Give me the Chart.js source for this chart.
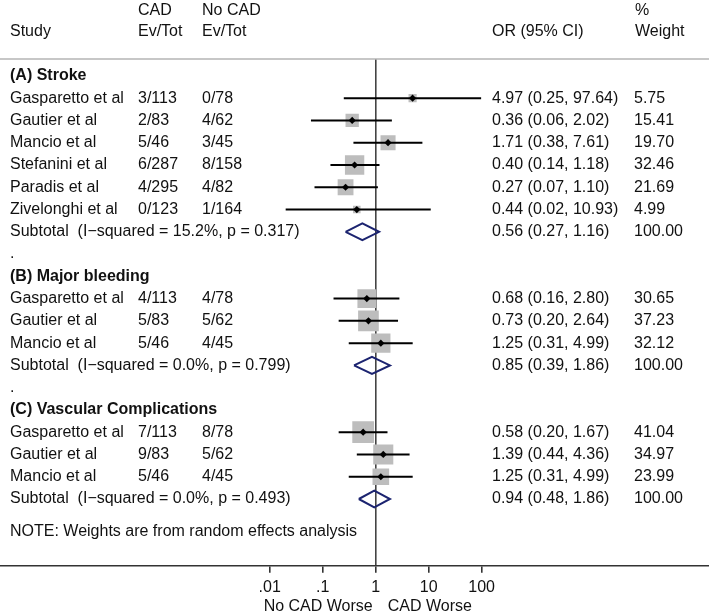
<!DOCTYPE html>
<html>
<head>
<meta charset="utf-8">
<script src="https://cdn.jsdelivr.net/npm/chart.js@4/dist/chart.umd.min.js"></script>
<style>
    html, body { margin: 0; padding: 0; background: #fff; }
    canvas { display: block; }
</style>
</head>
<body>
<canvas id="forestChart" width="709" height="616"></canvas>
<script>
// Study rows (row index from top of the table)
const studyRows = [1, 2, 3, 4, 5, 6, 10, 11, 12, 16, 17, 18];
const studyNames = ['Gasparetto et al', 'Gautier et al', 'Mancio et al', 'Stefanini et al', 'Paradis et al', 'Zivelonghi et al',
    'Gasparetto et al', 'Gautier et al', 'Mancio et al',
    'Gasparetto et al', 'Gautier et al', 'Mancio et al'];
const cadEvTot = ['3/113', '2/83', '5/46', '6/287', '4/295', '0/123', '4/113', '5/83', '5/46', '7/113', '9/83', '5/46'];
const noCadEvTot = ['0/78', '4/62', '3/45', '8/158', '4/82', '1/164', '4/78', '5/62', '4/45', '8/78', '5/62', '4/45'];
const oddsRatio = [4.97, 0.36, 1.71, 0.40, 0.27, 0.44, 0.68, 0.73, 1.25, 0.58, 1.39, 1.25];
const ciLow = [0.25, 0.06, 0.38, 0.14, 0.07, 0.02, 0.16, 0.20, 0.31, 0.20, 0.44, 0.31];
const ciHigh = [97.64, 2.02, 7.61, 1.18, 1.10, 10.93, 2.80, 2.64, 4.99, 1.67, 4.36, 4.99];
const weights = [5.75, 15.41, 19.70, 32.46, 21.69, 4.99, 30.65, 37.23, 32.12, 41.04, 34.97, 23.99];

// Section headers
const sectionRows = [0, 9, 15];
const sectionNames = ['(A) Stroke', '(B) Major bleeding', '(C) Vascular Complications'];
const spacerRows = [8, 14];

// Subtotals (pooled estimates)
const subtotalRows = [7, 13, 19];
const subtotalHetero = ['15.2%, p = 0.317', '0.0%, p = 0.799', '0.0%, p = 0.493'];
const subtotalOR = [0.56, 0.85, 0.94];
const subtotalLow = [0.27, 0.39, 0.48];
const subtotalHigh = [1.16, 1.86, 1.86];

// Axis
const tickValues = [0.01, 0.1, 1, 10, 100];
const tickLabels = ['.01', '.1', '1', '10', '100'];

const FONT = '"Liberation Sans", Arial, Helvetica, sans-serif';
const DIAMOND_HALF = 0.38; // half height of pooled diamond, in rows

const fmt = v => v.toFixed(2);

// build the pooled diamonds as closed outlines
const diamondPoints = [];
subtotalRows.forEach((r, i) => {
    diamondPoints.push(
        {x: subtotalLow[i], y: r},
        {x: subtotalOR[i], y: r - DIAMOND_HALF},
        {x: subtotalHigh[i], y: r},
        {x: subtotalOR[i], y: r + DIAMOND_HALF},
        {x: subtotalLow[i], y: r},
        {x: null, y: null}
    );
});

const ciPoints = [];
studyRows.forEach((r, i) => {
    ciPoints.push({x: ciLow[i], y: r}, {x: ciHigh[i], y: r}, {x: null, y: null});
});

// Table text and rules
const tablePlugin = {
    id: 'forestTable',
    beforeDatasetsDraw(chart) {
        const {ctx, chartArea} = chart;
        ctx.save();
        ctx.strokeStyle = '#b4b4b4';
        ctx.lineWidth = 1.5;
        ctx.beginPath();
        ctx.moveTo(0, chartArea.top);
        ctx.lineTo(chart.width, chartArea.top);
        ctx.stroke();
        ctx.restore();
    },
    afterDraw(chart) {
        const {ctx, scales: {x, y}} = chart;
        const rowY = r => y.getPixelForValue(r);
        const colStudy = 10, colCad = 138, colNoCad = 202, colOR = 492, colW = 634;

        ctx.save();
        ctx.fillStyle = '#111';
        ctx.textBaseline = 'middle';
        ctx.textAlign = 'left';
        ctx.font = '16px ' + FONT;

        // headers
        ctx.fillText('CAD', colCad, rowY(-2.95));
        ctx.fillText('No CAD', colNoCad, rowY(-2.95));
        ctx.fillText('%', colW + 1, rowY(-2.95));
        ctx.fillText('Study', colStudy, rowY(-1.97));
        ctx.fillText('Ev/Tot', colCad, rowY(-1.97));
        ctx.fillText('Ev/Tot', colNoCad, rowY(-1.97));
        ctx.fillText('OR (95% CI)', colOR, rowY(-1.97));
        ctx.fillText('Weight', colW + 1, rowY(-1.97));

        // studies
        studyRows.forEach((r, i) => {
            const yy = rowY(r);
            ctx.fillText(studyNames[i], colStudy, yy);
            ctx.fillText(cadEvTot[i], colCad, yy);
            ctx.fillText(noCadEvTot[i], colNoCad, yy);
            ctx.fillText(`${fmt(oddsRatio[i])} (${fmt(ciLow[i])}, ${fmt(ciHigh[i])})`, colOR, yy);
            ctx.fillText(fmt(weights[i]), colW, yy);
        });

        // subtotals
        subtotalRows.forEach((r, i) => {
            const yy = rowY(r);
            ctx.fillText(`Subtotal  (I\u2212squared = ${subtotalHetero[i]})`, colStudy, yy);
            ctx.fillText(`${fmt(subtotalOR[i])} (${fmt(subtotalLow[i])}, ${fmt(subtotalHigh[i])})`, colOR, yy);
            ctx.fillText('100.00', colW, yy);
        });

        spacerRows.forEach(r => ctx.fillText('.', colStudy, rowY(r)));

        ctx.fillText('NOTE: Weights are from random effects analysis', colStudy, rowY(20.45));

        // axis captions either side of the null line
        const x1 = x.getPixelForValue(1);
        const capY = 607;
        ctx.textAlign = 'right';
        ctx.fillText('No CAD Worse', x1 - 3, capY);
        ctx.textAlign = 'left';
        ctx.fillText('CAD Worse', x1 + 12, capY);

        // section titles
        ctx.font = 'bold 16px ' + FONT;
        sectionRows.forEach((r, i) => ctx.fillText(sectionNames[i], colStudy, rowY(r)));
        ctx.restore();
    }
};

const ctx = document.getElementById('forestChart').getContext('2d');
new Chart(ctx, {
    type: 'scatter',
    data: {
        datasets: [
            {
                label: 'Estimate',
                data: studyRows.map((r, i) => ({x: oddsRatio[i], y: r})),
                pointStyle: 'rectRot',
                pointRadius: 3.6,
                backgroundColor: '#000',
                borderWidth: 0,
                order: 0
            },
            {
                label: 'CI',
                data: ciPoints,
                showLine: true,
                spanGaps: false,
                borderColor: '#000',
                borderWidth: 2,
                pointRadius: 0,
                order: 1
            },
            {
                label: 'Pooled',
                data: diamondPoints,
                showLine: true,
                spanGaps: false,
                borderColor: 'rgb(28, 36, 112)',
                borderWidth: 2,
                borderJoinStyle: 'miter',
                pointRadius: 0,
                fill: false,
                order: 1
            },
            {
                label: 'Weight',
                data: studyRows.map((r, i) => ({x: oddsRatio[i], y: r})),
                pointStyle: 'rect',
                pointRadius: weights.map(w => 2.4 * Math.sqrt(w)),
                backgroundColor: '#bdbdbd',
                borderWidth: 0,
                order: 2
            }
        ]
    },
    options: {
        responsive: false,
        animation: false,
        events: [],
        layout: {
            autoPadding: false,
            padding: {top: 59, bottom: 14, left: 0, right: 0}
        },
        plugins: {
            legend: {display: false},
            tooltip: {enabled: false}
        },
        scales: {
            x: {
                type: 'logarithmic',
                min: Math.pow(10, -7.09),
                max: Math.pow(10, 6.29),
                afterBuildTicks: scale => {
                    scale.ticks = tickValues.map(v => ({value: v}));
                },
                ticks: {
                    autoSkip: false,
                    maxRotation: 0,
                    padding: 5,
                    color: '#111',
                    font: {family: FONT, size: 16},
                    callback: value => tickLabels[tickValues.indexOf(value)]
                },
                grid: {
                    drawOnChartArea: true,
                    color: c => (c.tick && c.tick.value === 1 ? '#444' : 'rgba(0,0,0,0)'),
                    lineWidth: 1.6,
                    tickColor: '#333',
                    tickLength: 7
                },
                border: {display: true, color: '#333', width: 1.6}
            },
            y: {
                type: 'linear',
                reverse: true,
                min: -0.76,
                max: 22.0,
                display: false
            }
        }
    },
    plugins: [tablePlugin]
});
</script>
</body>
</html>
